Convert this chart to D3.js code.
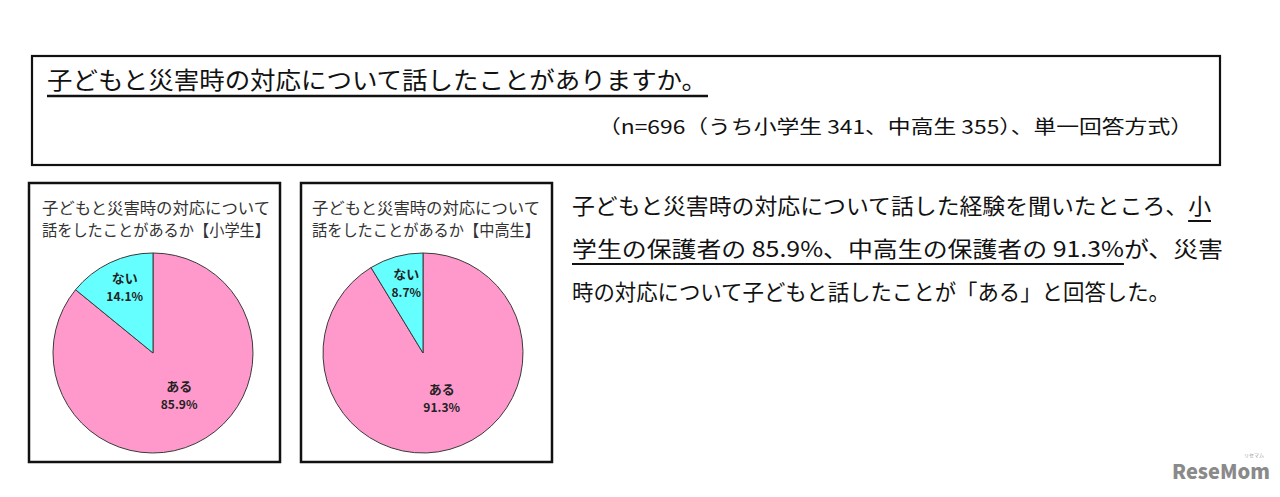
<!DOCTYPE html>
<html><head><meta charset="utf-8">
<script src="https://cdn.jsdelivr.net/npm/d3@7"></script>
<style>
html,body{margin:0;padding:0;background:#fff;}
svg{display:block;}
text{font-family:"Noto Sans CJK JP","Noto Sans",sans-serif;}
</style></head>
<body>
<svg id="c" width="1280" height="497"></svg>
<script>
// ---- data ----
const categories = ["ある", "ない"];
const elementaryValues = [85.9, 14.1];
const secondaryValues = [91.3, 8.7];
const chartTitles = ["子どもと災害時の対応について話をしたことがあるか【小学生】", "子どもと災害時の対応について話をしたことがあるか【中高生】"];
const mainTitle = "子どもと災害時の対応について話したことがありますか。";
const subTitle = "（n=696（うち小学生 341、中高生 355）、単一回答方式）";
const bodyLines = [
  "子どもと災害時の対応について話した経験を聞いたところ、小",
  "学生の保護者の 85.9%、中高生の保護者の 91.3%が、災害",
  "時の対応について子どもと話したことが「ある」と回答した。"
];
const colors = ["#FF99CC", "#66FFFF"];

const svg = d3.select("#c");

// ---- header box ----
svg.append("rect").attr("x", 32).attr("y", 56).attr("width", 1188).attr("height", 109)
  .attr("fill", "none").attr("stroke", "#111").attr("stroke-width", 2.2);
svg.append("text").attr("x", 47).attr("y", 89).attr("font-size", 24)
  .attr("textLength", 660).attr("lengthAdjust", "spacingAndGlyphs").attr("fill", "#111")
  .text(mainTitle);
svg.append("line").attr("x1", 47).attr("x2", 708).attr("y1", 96).attr("y2", 96)
  .attr("stroke", "#111").attr("stroke-width", 2.5);
svg.append("text").attr("x", 598).attr("y", 134).attr("font-size", 19)
  .attr("textLength", 595).attr("lengthAdjust", "spacingAndGlyphs").attr("fill", "#111")
  .text(subTitle);

// ---- pies ----
const pies = [
  {x0: 29, values: elementaryValues, title: chartTitles[0], cx: 153},
  {x0: 301, values: secondaryValues, title: chartTitles[1], cx: 423}
];
const r = 100, cy = 353;
const pie = d3.pie().sort(null).value(d => d).startAngle(0).endAngle(2 * Math.PI);
const arc = d3.arc().innerRadius(0).outerRadius(r);

pies.forEach(p => {
  const g = svg.append("g");
  g.append("rect").attr("x", p.x0).attr("y", 183).attr("width", 251).attr("height", 279)
    .attr("fill", "#fff").attr("stroke", "#111").attr("stroke-width", 2.5);
  const t1 = p.title.slice(0, 14), t2 = p.title.slice(14);
  g.append("text").attr("x", p.cx + 3).attr("y", 214).attr("text-anchor", "middle")
    .attr("font-size", 16).attr("fill", "#333").attr("textLength", 228).attr("lengthAdjust", "spacingAndGlyphs").text(t1);
  g.append("text").attr("x", p.cx + 3).attr("y", 236).attr("text-anchor", "middle")
    .attr("font-size", 16).attr("fill", "#333").attr("textLength", 228).attr("lengthAdjust", "spacingAndGlyphs").text(t2);
  const pg = g.append("g").attr("transform", `translate(${p.cx},${cy})`);
  const arcs = pie(p.values);
  pg.selectAll("path").data(arcs).join("path")
    .attr("d", arc).attr("fill", (d, i) => colors[i])
    .attr("stroke", "#3a3a3a").attr("stroke-width", 1);
  arcs.forEach((d, i) => {
    const mid = (d.startAngle + d.endAngle) / 2;
    const lr = i === 0 ? 0.47 * r : 0.73 * r;
    const lx = Math.sin(mid) * lr + (i === 0 ? 6 : 3);
    const ly = -Math.cos(mid) * lr;
    pg.append("text").attr("x", lx).attr("y", ly - 4).attr("text-anchor", "middle")
      .attr("font-size", 13).attr("font-weight", 700).attr("fill", "#222").text(categories[i]);
    pg.append("text").attr("x", lx).attr("y", ly + 14).attr("text-anchor", "middle")
      .attr("font-size", 12).attr("font-weight", 700).attr("fill", "#222").text(p.values[i].toFixed(1) + "%");
  });
});

// ---- body text ----
const lineY = [214, 257, 300];
const lineW = [639, 651, 598];
const texts = bodyLines.map((s, i) => svg.append("text").attr("x", 572).attr("y", lineY[i])
  .attr("font-size", 22).attr("fill", "#111")
  .attr("textLength", lineW[i]).attr("lengthAdjust", "spacingAndGlyphs").text(s));
// underline: "小" at end of line 1, line 2 until "91.3%"
const n1 = texts[0].node();
const ux1 = n1.getStartPositionOfChar(bodyLines[0].length - 1).x;
svg.append("line").attr("x1", ux1).attr("x2", 572 + lineW[0]).attr("y1", lineY[0] + 7).attr("y2", lineY[0] + 7)
  .attr("stroke", "#111").attr("stroke-width", 2);
const n2 = texts[1].node();
const pIdx = bodyLines[1].indexOf("%が");
const ux2 = n2.getEndPositionOfChar(pIdx).x;
svg.append("line").attr("x1", 572).attr("x2", ux2).attr("y1", lineY[1] + 7).attr("y2", lineY[1] + 7)
  .attr("stroke", "#111").attr("stroke-width", 2);

// ---- logo ----
svg.append("text").attr("x", 1172).attr("y", 479).attr("font-family", "Lato, sans-serif")
  .attr("font-size", 20).attr("font-weight", 900).attr("fill", "#8a8a8a").text("ReseMom");
svg.append("text").attr("x", 1244).attr("y", 457).attr("font-size", 5).attr("fill", "#999").text("リセマム");
</script>
</body></html>
